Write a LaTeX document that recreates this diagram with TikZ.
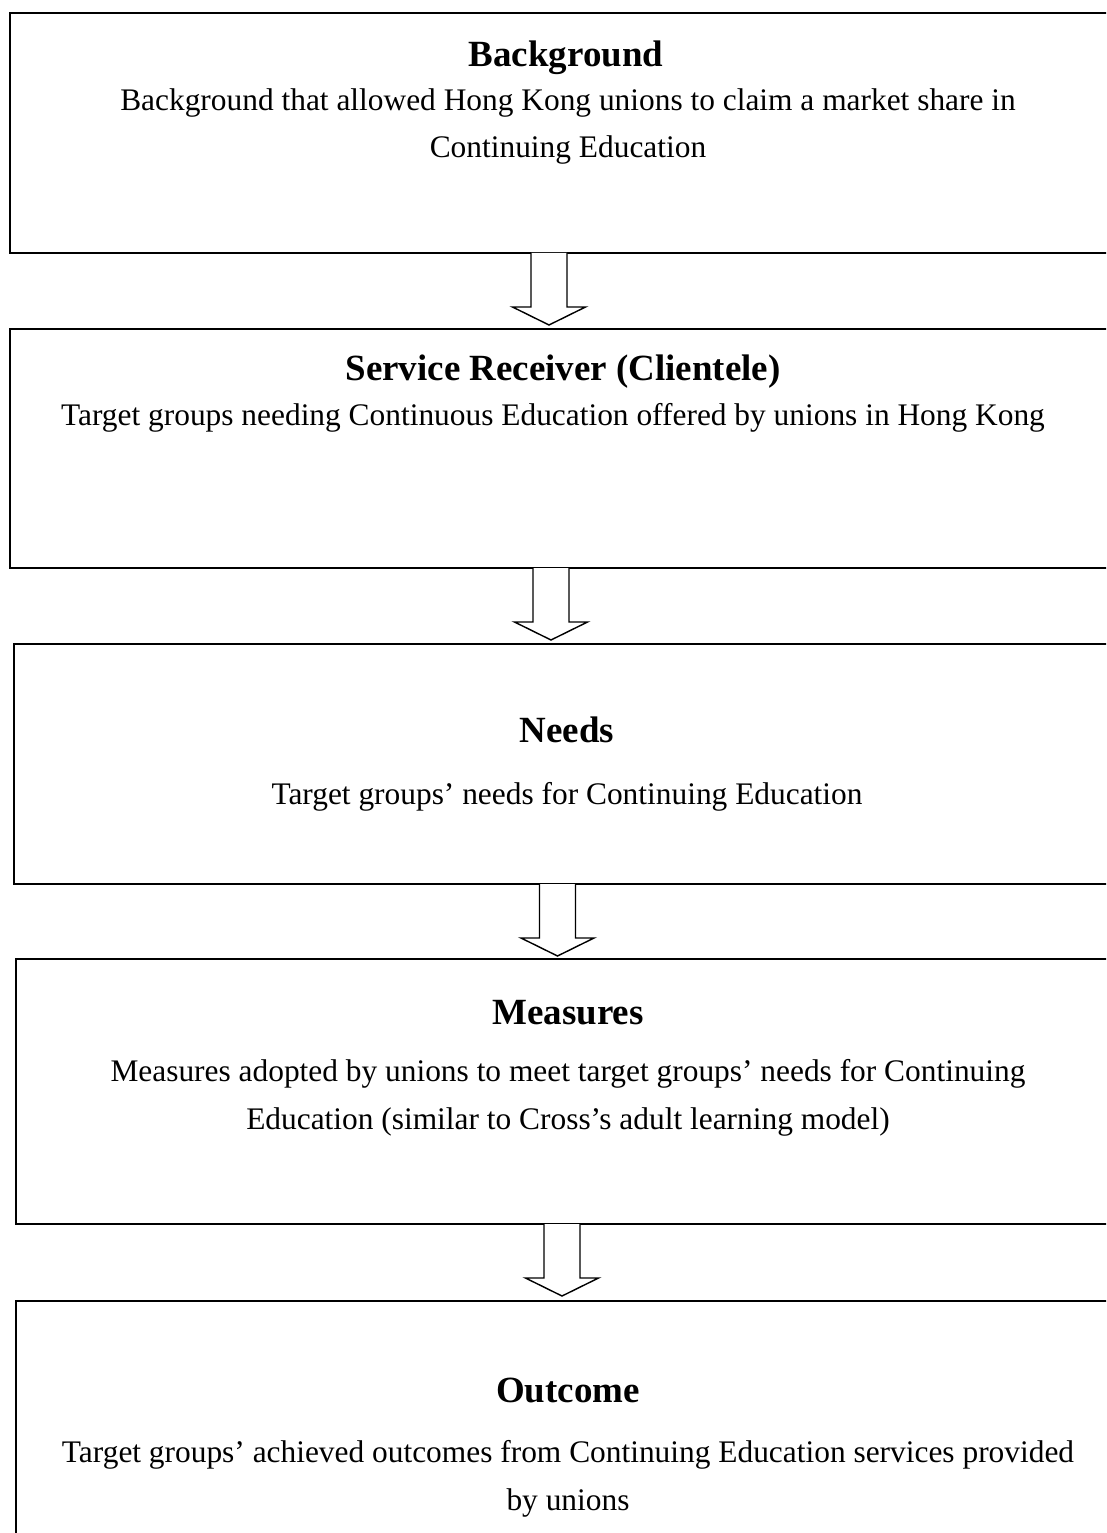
\documentclass[tikz,border=0pt]{standalone}
\usepackage{fontspec}
\setmainfont{Liberation Serif}

\tikzset{
  stage/.style={line width=0.8pt},
  title/.style={anchor=base, font=\fontsize{14.3}{17}\selectfont\bfseries},
  body/.style={anchor=base, align=center, font=\fontsize{12.15}{18.2}\selectfont},
  hollow/.style={line width=0.55pt, fill=white, line join=miter}
}

% hollow block arrow: centre x, top y
\newcommand{\hollowarrow}[2]{%
  \draw[hollow] (#1-18,#2) -- (#1-18,#2+54) -- (#1-36.5,#2+54) -- (#1,#2+72)
    -- (#1+36.5,#2+54) -- (#1+18,#2+54) -- (#1+18,#2);
}

\begin{document}
\begin{tikzpicture}[x=0.387pt, y=-0.387pt]
  \useasboundingbox (0,0) rectangle (1106,1533);
  \clip (0,0) rectangle (1106,1533);

  % Stages
  \draw[stage] (10,13) rectangle (1130,253);
  \draw[stage] (10,329) rectangle (1130,568);
  \draw[stage] (14,644) rectangle (1130,884);
  \draw[stage] (16,959) rectangle (1130,1224);
  \draw[stage] (16,1301) rectangle (1130,1560);

  % Arrows between stages
  \hollowarrow{549}{253}
  \hollowarrow{551}{568}
  \hollowarrow{557.5}{884}
  \hollowarrow{562}{1224}

  % Background (two-line texts sit on their last line)
  \node[title] (bgtitle) at (566,67) {Background};
  \node[body] (bgtext) at (568,158)
    {Background that allowed Hong Kong unions to claim a market share in\\ Continuing Education};

  % Service receiver
  \node[title] (srtitle) at (563,381) {Service Receiver (Clientele)};
  \node[body] (srtext) at (553,426)
    {Target groups needing Continuous Education offered by unions in Hong Kong};

  % Needs
  \node[title] (ndtitle) at (567,742) {Needs};
  \node[body] (ndtext) at (567,804) {Target groups’ needs for Continuing Education};

  % Measures
  \node[title] (mstitle) at (568,1024) {Measures};
  \node[body] (mstext) at (568,1129)
    {Measures adopted by unions to meet target groups’ needs for Continuing\\ Education (similar to Cross’s adult learning model)};

  % Outcome
  \node[title] (octitle) at (568,1402) {Outcome};
  \node[body] (octext) at (568,1510)
    {Target groups’ achieved outcomes from Continuing Education services provided\\ by unions};
\end{tikzpicture}
\end{document}
